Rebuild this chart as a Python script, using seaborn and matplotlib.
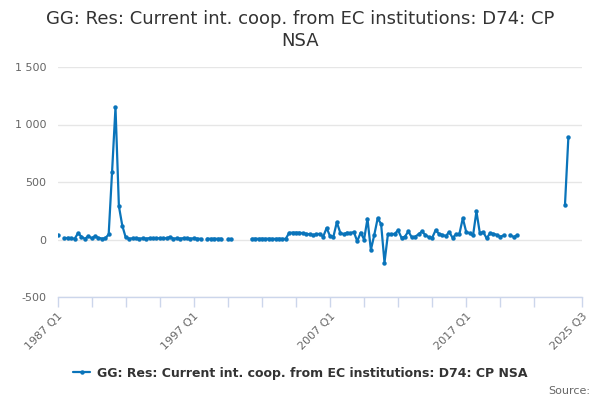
import numpy as np
import pandas as pd
import matplotlib
matplotlib.use('Agg')
import matplotlib.pyplot as plt
import seaborn as sns
from matplotlib.lines import Line2D
from matplotlib.ticker import FuncFormatter

title = 'GG: Res: Current int. coop. from EC institutions: D74: CP\nNSA'
series_name = 'GG: Res: Current int. coop. from EC institutions: D74: CP NSA'

start_year = 1987
end_label = '2025 Q3'
n_quarters = 154   # 1987 Q1 .. 2025 Q3

# quarterly values from 1987 Q1 onwards, None = no data
values = [
    37, None, 9, 15, 12, 6, 55, 25, 6, 28,
    12, 28, 15, 8, 10, 45, 590, 1150, 290, 120,
    18, 8, 10, 12, 8, 10, 8, 12, 10, 12,
    10, 12, 10, 22, 8, 10, 8, 12, 10, 8,
    10, 8, 6, None, 8, 6, 8, 6, 8, None,
    6, 6, None, None, None, None, None, 6, 8, 6,
    8, 6, 8, 6, 6, 8, 6, 6, 58, 60,
    60, 60, 55, 50, 45, 40, 45, 50, 25, 100,
    30, 25, 150, 60, 45, 60, 55, 65, -15, 60,
    0, 180, -90, 40, 185, 135, -200, 45, 45, 50,
    80, 15, 25, 70, 20, 25, 45, 70, 40, 20,
    15, 80, 50, 40, 30, 65, 15, 45, 50, 185,
    65, 55, 35, 245, 55, 65, 10, 55, 50, 40,
    25, 35, None, 35, 22, 38, None, None, None, None,
    None, None, None, None, None, None, None, None, None, 300,
    890,
]

yticks = [-500, 0, 500, 1000, 1500]

line_color = '#0a74ba'

df = pd.DataFrame({'q': np.arange(len(values)), 'value': values})
df['value'] = df['value'].astype(float)
# break the line at missing quarters
df['seg'] = df['value'].isna().cumsum()
df = df.dropna()

sns.set_style('white')
plt.rcParams['font.family'] = ['DejaVu Sans']

fig = plt.figure(figsize=(6, 4), dpi=100)
ax = fig.add_axes([0.096, 0.2575, 0.874, 0.575])

sns.lineplot(data=df, x='q', y='value', units='seg', estimator=None,
             color=line_color, lw=1.6, marker='o', markersize=3.2,
             markeredgewidth=0, ax=ax, legend=False)

ax.set_xlim(0, n_quarters)
ax.set_ylim(-500, 1500)
ax.set_yticks(yticks)
ax.yaxis.set_major_formatter(FuncFormatter(lambda v, p: '{:,.0f}'.format(v).replace(',', ' ')))
ax.grid(axis='y', color='#e6e6e6', lw=1)
ax.set_axisbelow(True)

xt = list(range(0, 150, 10)) + [n_quarters]
labels = []
for t in xt:
    if t == n_quarters:
        labels.append(end_label)
    elif t % 40 == 0:
        labels.append('{} Q{}'.format(start_year + t // 4, t % 4 + 1))
    else:
        labels.append('')
ax.set_xticks(xt)
ax.set_xticklabels(labels, rotation=45, ha='right', rotation_mode='anchor')

ax.tick_params(axis='x', bottom=True, length=7, width=1, color='#ccd6eb', labelsize=8,
               labelcolor='#666666', pad=3, direction='out')
ax.tick_params(axis='y', left=False, length=0, labelsize=8, labelcolor='#666666', pad=8)

for s in ['top', 'right', 'left']:
    ax.spines[s].set_visible(False)
ax.spines['bottom'].set_color('#ccd6eb')
ax.spines['bottom'].set_linewidth(1)
ax.set_xlabel('')
ax.set_ylabel('')

fig.suptitle(title, x=0.5, y=0.975, fontsize=13, color='#333333', va='top', linespacing=1.3)

handle = Line2D([], [], color=line_color, lw=1.6, marker='o', markersize=3.2,
                markeredgewidth=0)
leg = fig.legend([handle], [series_name], loc='center', bbox_to_anchor=(0.5, 0.067),
                 frameon=False, handlelength=1.4, fontsize=9, handletextpad=0.5)
for t in leg.get_texts():
    t.set_color('#333333')
    t.set_fontweight('bold')

fig.text(0.983, 0.022, 'Source:', ha='right', va='center', fontsize=8, color='#666666')

fig.savefig('out.png', dpi=100)
